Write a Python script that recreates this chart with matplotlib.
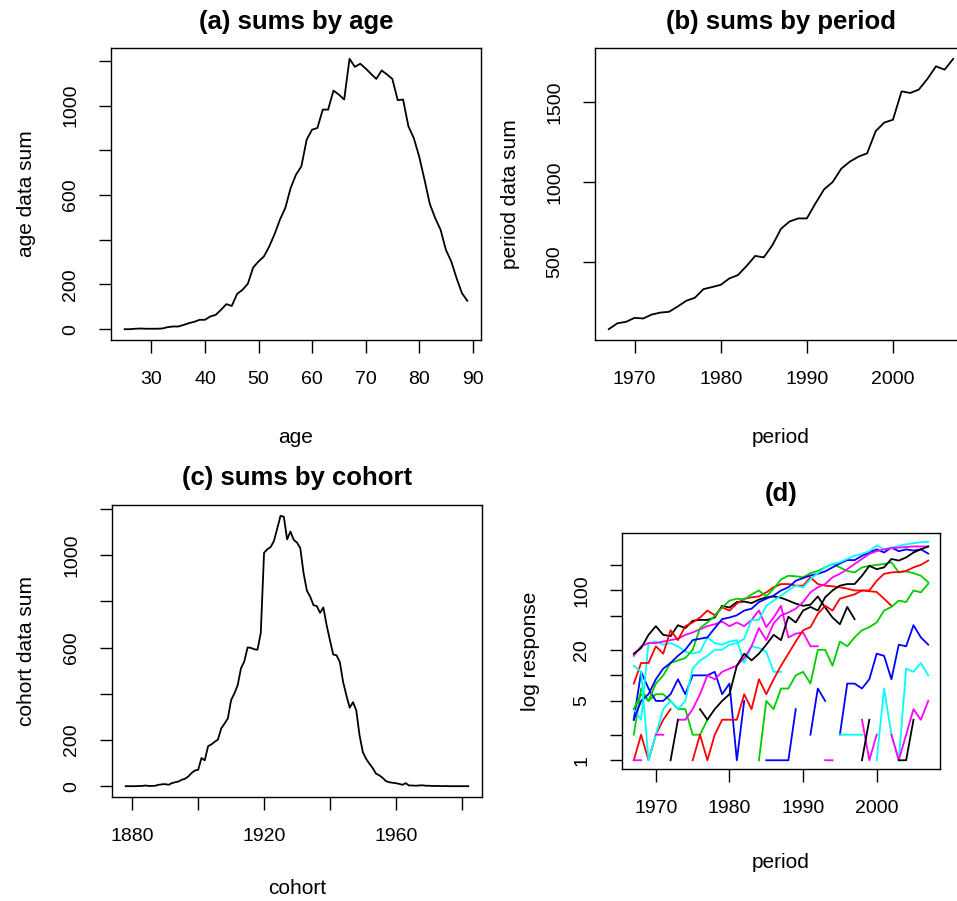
import matplotlib

matplotlib.use("Agg")
import matplotlib.pyplot as plt
import numpy as np
from matplotlib.ticker import FixedLocator, NullLocator

plt.rcParams["font.family"] = ["Liberation Sans", "DejaVu Sans"]

nan = np.nan

# ── sums of death counts over each time scale ──────────────────────────────
ages = np.arange(25, 90)
age_sums = [0, 0, 2, 3, 2, 2, 2, 3, 9, 12,
            12, 19, 27, 33, 42, 42, 57, 64, 87, 112,
            104, 158, 176, 203, 276, 303, 325, 370, 425, 490,
            542, 631, 691, 728, 848, 892, 900, 982, 982, 1067,
            1049, 1027, 1209, 1173, 1187, 1166, 1142, 1119, 1157, 1139,
            1119, 1024, 1027, 907, 855, 773, 669, 560, 497, 445,
            355, 303, 228, 161, 127]

periods = np.arange(1967, 2008)
period_sums = [79, 116, 125, 150, 146, 171, 183, 188, 221, 257,
               276, 330, 343, 357, 397, 418, 475, 538, 529, 605,
               708, 754, 773, 773, 867, 955, 1001, 1085, 1129, 1160,
               1181, 1320, 1374, 1391, 1569, 1559, 1580, 1647, 1726, 1705,
               1773]

cohorts = np.arange(1878, 1983)
cohort_sums = [0, 0, 0, 0, 1, 1, 3, 1, 1, 2,
               6, 8, 9, 6, 13, 17, 20, 28, 32, 42,
               57, 68, 71, 122, 112, 173, 181, 192, 202, 250,
               271, 293, 373, 402, 438, 511, 540, 601, 599, 593,
               591, 663, 1011, 1026, 1036, 1062, 1116, 1171, 1167, 1069,
               1103, 1067, 1055, 1031, 922, 847, 821, 784, 780, 751,
               774, 697, 632, 570, 567, 538, 451, 393, 340, 364,
               328, 219, 147, 118, 97, 78, 54, 47, 36, 22,
               17, 15, 13, 10, 6, 13, 3, 3, 2, 3,
               4, 2, 2, 1, 1, 1, 0, 1, 0, 0,
               0, 0, 0, 0, 0]

# ── (d): responses by period for every fifth cohort (zeros = gaps on log) ──
resp_1883 = [1, 2, 1, 2, 3, 4]
resp_1888 = [2, 7, 5, 6, 6, 5, 4, 4, 2, 2, 3]
resp_1893 = [3, 11, 7, 5, 5, 6, 9, 6, 10, 10, 10, 11, 6, 8, 1, 5]
resp_1898 = [4, 3, 24, 25, 23, 24, 22, 19, 18, 19, 28, 24, 23, 25, 26, 14,
             22, 21, 19, 11, 11]
resp_1903 = [17, 22, 24, 24, 25, 26, 27, 30, 32, 35, 38, 40, 43, 38, 42, 38,
             45, 58, 37, 48, 66, 28, 31, 32, 22, 22]
resp_1908 = [18, 21, 30, 38, 30, 29, 39, 36, 44, 45, 45, 48, 66, 63, 73, 74,
             71, 78, 83, 85, 82, 76, 70, 66, 68, 85, 63, 48, 40, 64, 46]
resp_1913 = [8, 14, 14, 22, 18, 34, 26, 38, 42, 48, 58, 51, 63, 58, 70, 80,
             83, 85, 95, 109, 119, 119, 114, 114, 143, 119, 114, 112, 109, 105,
             100, 100, 98, 96, 80, 66]
resp_1918 = [4, 6, 5, 8, 10, 14, 15, 16, 20, 36, 42, 50, 63, 76, 80, 78, 90,
             100, 85, 105, 135, 149, 147, 143, 160, 170, 187, 205, 187, 170,
             163, 187, 195, 200, 205, 215, 163, 168, 160, 149, 125]
resp_1923 = [3, 5, 6, 9, 12, 14, 17, 20, 26, 27, 28, 36, 46, 48, 51, 58, 61,
             73, 80, 87, 100, 109, 130, 140, 150, 157, 168, 187, 208, 228, 228,
             256, 280, 305, 280, 320, 290, 305, 295, 305, 272]
resp_1928 = [13, 11, 1, 2, 4, 5, 4, 5, 12, 15, 17, 20, 20, 23, 24, 27, 45,
             45, 66, 76, 87, 100, 114, 109, 136, 160, 187, 205, 215, 235, 256,
             270, 290, 340, 305, 320, 335, 350, 360, 370, 375]
resp_1933 = [1, 1, nan, 2, 2, nan, 3, 3, 4, 6, 10, 9, 11, 12, 13, 16, 22, 36,
             26, 41, 51, 55, 61, 73, 95, 109, 119, 143, 157, 178, 205, 235,
             270, 290, 305, 315, 320, 325, 330, 330, 330]
resp_1938 = [nan, nan, nan, nan, nan, 1, 3, nan, nan, 4, 3, 4, 5, 6, 13, 18,
             15, 18, 23, 30, 26, 49, 42, 58, 64, 58, 83, 100, 114, 119, 119,
             149, 195, 178, 187, 235, 225, 245, 280, 305, 330]
resp_1943 = [1, 2, 1, 2, 3, 3, 3, 6, 4, 9, 6, 9, 13, 18, 25, 34, 37, 53, 66,
             58, 80, 85, 90, 100, 100, 130, 157, 163, 165, 170, 187, 200, 225]
resp_1948 = [1, 5, 4, 7, 7, 10, 11, 8, 20, 20, 13, 25, 22, 28, 34, 37, 42,
             58, 64, 76, 73, 100, 95, 120]
resp_1953 = [1, 1, 1, 1, 4, nan, 2, 7, 5, nan, 2, 8, 8, 7, 9, 18, 17, 9, 23,
             22, 39, 28, 23]
resp_1958 = [2, 2, 2, 2, nan, 1, 7, 2, 1, 12, 11, 14, 10]
resp_1963 = [1, 1, nan, nan, nan, 3, 1, 2, nan, 2, 1, 2, 4, 3, 5]
resp_1968 = [1, 3, nan, nan, nan, 1, 1, 3]

resp_series = [resp_1883, resp_1888, resp_1893, resp_1898, resp_1903,
               resp_1908, resp_1913, resp_1918, resp_1923, resp_1928,
               resp_1933, resp_1938, resp_1943, resp_1948, resp_1953,
               resp_1958, resp_1963, resp_1968]
resp_first_period = [1967, 1967, 1967, 1967, 1967, 1967, 1967, 1967, 1967,
                     1967, 1967, 1967, 1975, 1984, 1985, 1995, 1993, 1998]

# R's default palette, cycled like matplot
R_COLS = ["#000000", "#FF0000", "#00CD00", "#0000FF", "#00FFFF", "#FF00FF"]
resp_colors = [R_COLS[(i + 1) % 6] for i in range(len(resp_series))]

W, H = 957, 901
FS_TICK = 14
FS_LAB = 15
FS_TITLE = 18.5


def add_axes_px(fig, left, top, right, bottom):
    return fig.add_axes([left / W, 1 - bottom / H, (right - left) / W,
                         (bottom - top) / H])


def r_axes(ax, xticks, xlabels, yticks, ylabels):
    for sp in ax.spines.values():
        sp.set_linewidth(1.0)
    ax.xaxis.set_major_locator(FixedLocator(xticks))
    ax.set_xticklabels(xlabels)
    ax.yaxis.set_major_locator(FixedLocator(yticks))
    ax.set_yticklabels(ylabels)
    ax.xaxis.set_minor_locator(NullLocator())
    ax.yaxis.set_minor_locator(NullLocator())
    ax.tick_params(direction="out", length=9, width=1, labelsize=FS_TICK)
    ax.tick_params(axis="x", pad=13)
    ax.tick_params(axis="y", pad=14, labelrotation=90)
    for t in ax.get_yticklabels():
        t.set_verticalalignment("center")


def r_text(fig, ax, title, xlabel, ylabel, title_y, xlab_y, ylab_x, cx, cy):
    fig.text(cx / W, 1 - title_y / H, title, ha="center", va="center",
             fontsize=FS_TITLE, fontweight="bold")
    ax.set_xlabel(xlabel, fontsize=FS_LAB)
    ax.xaxis.set_label_coords(cx / W, 1 - xlab_y / H, transform=fig.transFigure)
    ax.xaxis.label.set_verticalalignment("center")
    ax.set_ylabel(ylabel, fontsize=FS_LAB)
    ax.yaxis.set_label_coords(ylab_x / W, 1 - cy / H, transform=fig.transFigure)
    ax.yaxis.label.set_verticalalignment("center")


fig = plt.figure(figsize=(W / 100, H / 100), dpi=100)

# (a) sums by age
ax = add_axes_px(fig, 111, 48, 481, 340)
ax.plot(ages, age_sums, color="black", lw=1.3)
ax.margins(x=0.04, y=0.04)
r_axes(ax, [30, 40, 50, 60, 70, 80, 90], ["30", "40", "50", "60", "70", "80", "90"],
       [0, 200, 400, 600, 800, 1000, 1200], ["0", "200", "", "600", "", "1000", ""])
r_text(fig, ax, "(a) sums by age", "age", "age data sum", 22, 437, 27, 296, 194)

# (b) sums by period
ax = add_axes_px(fig, 595, 48, 967, 340)
ax.plot(periods, period_sums, color="black", lw=1.3)
ax.margins(x=0.04, y=0.04)
r_axes(ax, [1970, 1980, 1990, 2000], ["1970", "1980", "1990", "2000"],
       [500, 1000, 1500], ["500", "1000", "1500"])
r_text(fig, ax, "(b) sums by period", "period", "period data sum", 22, 437, 510,
       781, 194)

# (c) sums by cohort
ax = add_axes_px(fig, 112, 505, 482, 797)
ax.plot(cohorts, cohort_sums, color="black", lw=1.3)
ax.margins(x=0.04, y=0.04)
r_axes(ax, [1880, 1900, 1920, 1940, 1960, 1980], ["1880", "", "1920", "", "1960", ""],
       [0, 200, 400, 600, 800, 1000, 1200], ["0", "200", "", "600", "", "1000", ""])
r_text(fig, ax, "(c) sums by cohort", "cohort", "cohort data sum", 478, 888, 27,
       297, 651)

# (d) responses on log scale
ax = add_axes_px(fig, 622, 533, 940, 769)
for first, vals, col in zip(resp_first_period, resp_series, resp_colors):
    x = np.arange(first, first + len(vals))
    ax.plot(x, vals, color=col, lw=1.3)
ax.set_yscale("log")
ax.set_xlim(1967 - 0.04 * 40, 2007 + 0.04 * 40)
ax.margins(y=0.04)
r_axes(ax, [1970, 1980, 1990, 2000], ["1970", "1980", "1990", "2000"],
       [1, 2, 5, 10, 20, 50, 100, 200], ["1", "", "5", "", "20", "", "100", ""])
r_text(fig, ax, "(d)", "period", "log response", 494, 863, 530, 781, 651)

fig.savefig("out.png", dpi=100)
plt.close(fig)
